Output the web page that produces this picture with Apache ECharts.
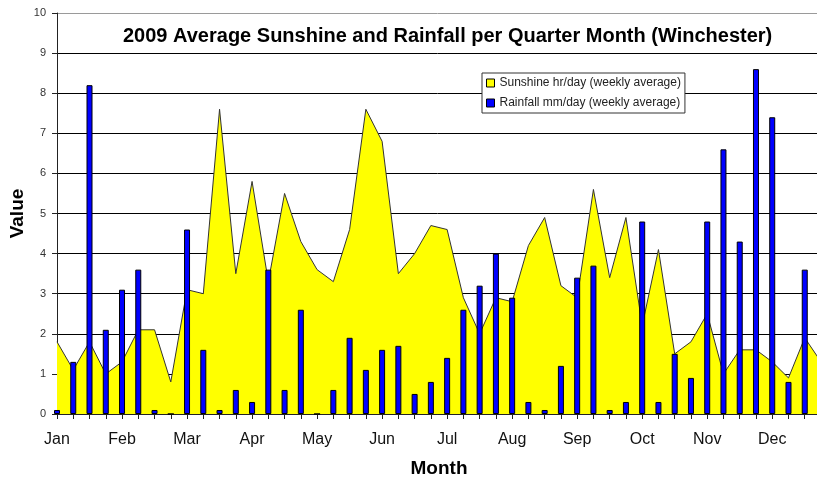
<!DOCTYPE html>
<html>
<head>
<meta charset="utf-8">
<script src="https://cdn.jsdelivr.net/npm/echarts@6/dist/echarts.min.js"></script>
<style>html,body{margin:0;padding:0;background:#fff;}#c{width:817px;height:478px;}</style>
</head>
<body>
<div id="c"></div>
<script>
const months = ['Jan','Feb','Mar','Apr','May','Jun','Jul','Aug','Sep','Oct','Nov','Dec'];
const weeksPerMonth = 4;
const yTicks = [0,1,2,3,4,5,6,7,8,9,10];
const sunshine = [1.8,1.1,1.8,1.0, 1.3,2.1,2.1,0.8, 3.1,3.0,7.6,3.5, 5.8,3.3,5.5,4.3,
                  3.6,3.3,4.6,7.6, 6.8,3.5,4.0,4.7, 4.6,2.9,2.0,2.9, 2.8,4.2,4.9,3.2,
                  2.9,5.6,3.4,4.9, 2.2,4.1,1.5,1.8, 2.5,1.0,1.6,1.6, 1.3,0.9,1.9,1.3];
const rainfall = [0.1,1.3,8.2,2.1, 3.1,3.6,0.1,0, 4.6,1.6,0.1,0.6, 0.3,3.6,0.6,2.6,
                  0,0.6,1.9,1.1, 1.6,1.7,0.5,0.8, 1.4,2.6,3.2,4.0, 2.9,0.3,0.1,1.2,
                  3.4,3.7,0.1,0.3, 4.8,0.3,1.5,0.9, 4.8,6.6,4.3,8.6, 7.4,0.8,3.6,null];
const categories = [];
months.forEach(m => { for (let w = 1; w <= weeksPerMonth; w++) categories.push(m + ' ' + w); });

const FONT = "'Liberation Sans', Arial, sans-serif";
const chart = echarts.init(document.getElementById('c'), null, {renderer:'canvas'});
const splitColors = yTicks.map(v => v === 10 ? '#9a9a9a' : '#000');
chart.setOption({
  animation: false,
  backgroundColor: '#fff',
  textStyle: {fontFamily: FONT},
  grid: {left: 57, top: 13, width: 764, height: 401, containLabel: false, outerBoundsMode: 'none'},
  graphic: [{
    type: 'text', left: 123, top: 26, z: 10,
    style: {text: '2009 Average Sunshine and Rainfall per Quarter Month (Winchester)',
            font: "bold 20px " + FONT, fill: '#000'}
  }],
  legend: {
    orient: 'vertical', left: 482, top: 73,
    backgroundColor: '#fff', borderColor: '#333', borderWidth: 1,
    padding: [3, 4, 3, 4], itemWidth: 8, itemHeight: 8, itemGap: 6,
    textStyle: {fontSize: 12, lineHeight: 14, color: '#222', fontFamily: FONT},
    data: [
      {name: 'Sunshine hr/day (weekly average)', icon: 'rect', itemStyle: {color: '#ffff00', borderColor: '#000', borderWidth: 1}},
      {name: 'Rainfall mm/day (weekly average)', icon: 'rect', itemStyle: {color: '#0000ff', borderColor: '#000', borderWidth: 1}}
    ]
  },
  xAxis: {
    type: 'category', data: categories, boundaryGap: false,
    name: 'Month', nameLocation: 'middle', nameGap: 45, nameMoveOverlap: false,
    nameTextStyle: {fontSize: 19, fontWeight: 'bold', color: '#000', fontFamily: FONT},
    axisLine: {lineStyle: {color: '#222', width: 1}},
    axisTick: {show: true, interval: 0, length: 5, lineStyle: {color: '#222'}},
    axisLabel: {interval: weeksPerMonth - 1, margin: 18, fontSize: 16, color: '#111', fontFamily: FONT,
                formatter: v => v.split(' ')[0]},
    splitLine: {show: false}
  },
  yAxis: {
    type: 'value', min: 0, max: 10, interval: 1,
    name: 'Value', nameLocation: 'middle', nameGap: 30, nameMoveOverlap: false,
    nameTextStyle: {fontSize: 19, fontWeight: 'bold', color: '#000', fontFamily: FONT},
    axisLine: {show: true, lineStyle: {color: '#222', width: 1}},
    axisTick: {show: true, length: 5, lineStyle: {color: '#222'}},
    axisLabel: {fontSize: 11, color: '#333', margin: 11, fontFamily: FONT},
    splitLine: {show: true, lineStyle: {color: splitColors, width: 1}}
  },
  series: [
    {
      name: 'Sunshine hr/day (weekly average)', type: 'line', data: sunshine,
      symbol: 'none', smooth: false,
      lineStyle: {color: '#333', width: 1},
      itemStyle: {color: '#ffff00'},
      areaStyle: {color: '#ffff00', opacity: 1},
      z: 2
    },
    {
      name: 'Rainfall mm/day (weekly average)', type: 'bar', data: rainfall,
      barWidth: 6,
      itemStyle: {color: '#0000ff', borderColor: '#000', borderWidth: 1},
      z: 3
    }
  ]
});
</script>
</body>
</html>
